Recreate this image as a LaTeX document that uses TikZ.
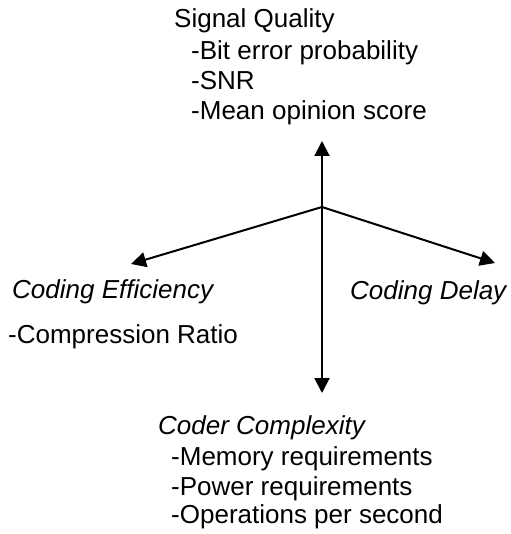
\documentclass[tikz,border=0pt]{standalone}
\usepackage{fontspec}
\setmainfont{Liberation Sans}
\usetikzlibrary{arrows.meta}

\begin{document}
\begin{tikzpicture}
  [x=1pt,y=-1pt,every node/.style={anchor=base west,inner sep=0pt,font=\fontsize{26}{31}\selectfont},
   axis/.style={line width=2pt,-{Triangle[length=15pt,width=15pt]}}]
  \useasboundingbox (0,0) rectangle (510,534);
  \coordinate (hub) at (322,207);
  \coordinate (upTip) at (322,141);
  \coordinate (downTip) at (322,393);
  \coordinate (leftTip) at (131,264);
  \coordinate (rightTip) at (495,263);
  % Signal quality
  \node (quality) at (174,28) {Signal Quality};
  \node (ber) at (191,60) {-Bit error probability};
  \node (snr) at (191,90) {-SNR};
  \node (mos) at (191,120) {-Mean opinion score};
  % Efficiency and delay
  \node (efficiency) at (12,298) {\itshape Coding Efficiency};
  \node (ratio) at (8,343) {-Compression Ratio};
  \node (delay) at (350,299) {\itshape Coding Delay};
  % Coder complexity
  \node (complexity) at (158,434) {\itshape Coder Complexity};
  \node (memory) at (171,465) {-Memory requirements};
  \node (power) at (171,495) {-Power requirements};
  \node (ops) at (171,523) {-Operations per second};

  \foreach \to in {upTip,downTip,leftTip,rightTip}
    \draw[axis] (hub) -- (\to);
\end{tikzpicture}
\end{document}
